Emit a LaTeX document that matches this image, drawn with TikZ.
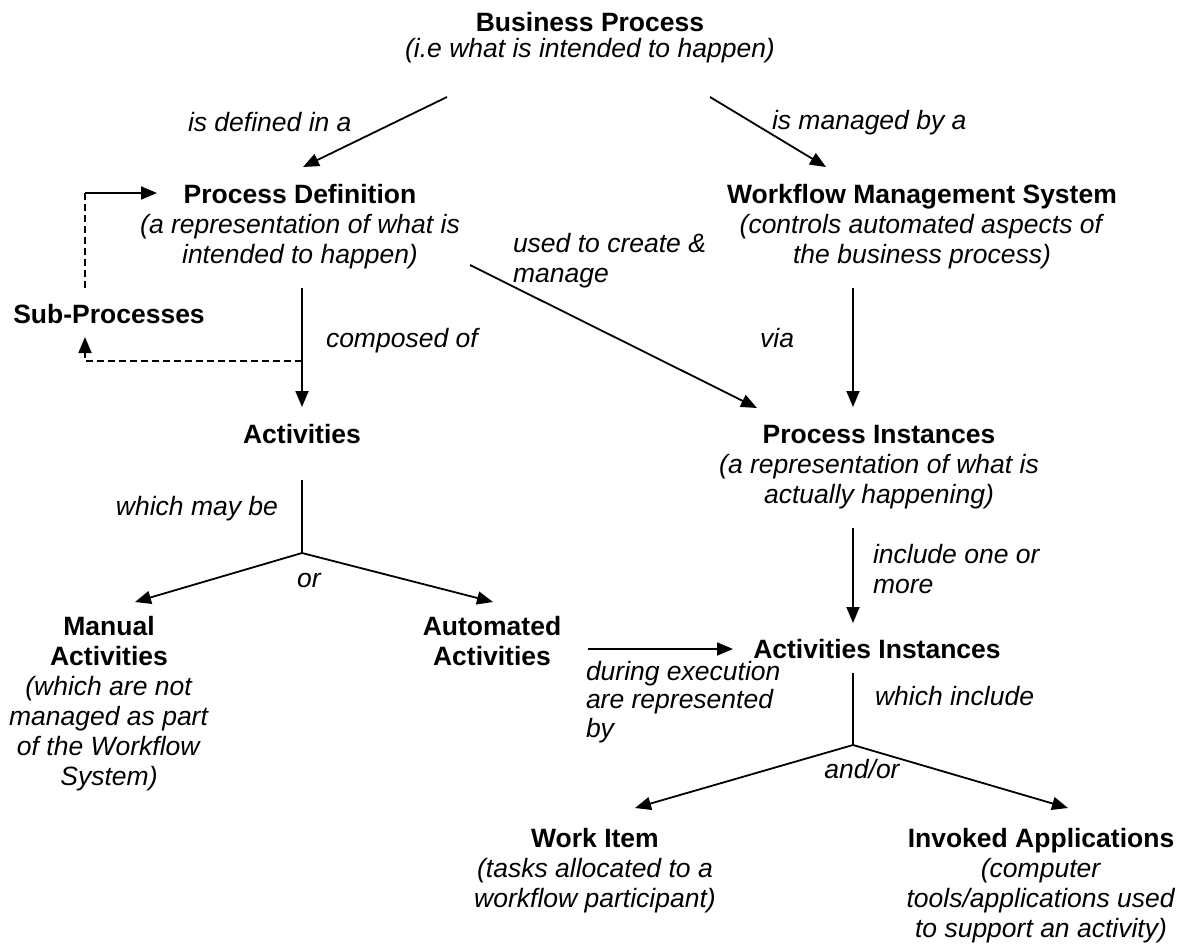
\documentclass[tikz,border=0pt]{standalone}
\usepackage{fontspec}
\setmainfont{Liberation Sans}
\usetikzlibrary{arrows.meta}
\begin{document}
\begin{tikzpicture}[x=1pt,y=-1pt,
  every node/.style={inner sep=0pt, outer sep=0pt, font=\fontsize{26.5}{30}\selectfont},
  blk/.style={anchor=north, align=center},
  lbl/.style={font=\fontsize{26.5}{30}\selectfont\itshape},
  lblblock/.style={lbl, anchor=north west, align=left},
  conn/.style={line width=1.8pt, draw=black},
  tip/.style={-{Triangle[length=16pt,width=13pt]}},
  arr/.style={conn, tip},
  dashedconn/.style={conn, dash pattern=on 7pt off 4pt}
]
\useasboundingbox (0,0) rectangle (1179,947);

% ---- concepts (first baseline minus strut height 21pt) ----
\node[blk] (bp) at (590,11)
  {\strut\textbf{Business Process}\\[-4pt]\strut\textit{(i.e what is intended to happen)}};
\node[blk] (pd) at (300,182)
  {\strut\textbf{Process Definition}\\\strut\textit{(a representation of what is}\\\strut\textit{intended to happen)}};
\node[blk] (wms) at (922,182)
  {\strut\textbf{Workflow Management System}\\\strut\textit{(controls automated aspects of}\\\strut\textit{the business process)}};
\node[blk] (sub) at (109,302) {\strut\textbf{Sub-Processes}};
\node[blk] (act) at (302,422) {\strut\textbf{Activities}};
\node[blk] (pi) at (879,422)
  {\strut\textbf{Process Instances}\\\strut\textit{(a representation of what is}\\\strut\textit{actually happening)}};
\node[blk] (man) at (109,614)
  {\strut\textbf{Manual}\\\strut\textbf{Activities}\\\strut\textit{(which are not}\\\strut\textit{managed as part}\\\strut\textit{of the Workflow}\\\strut\textit{System)}};
\node[blk] (auto) at (492,614)
  {\strut\textbf{Automated}\\\strut\textbf{Activities}};
\node[blk] (ai) at (877,637) {\strut\textbf{Activities Instances}};
\node[blk] (wi) at (595,826)
  {\strut\textbf{Work Item}\\\strut\textit{(tasks allocated to a}\\\strut\textit{workflow participant)}};
\node[blk] (ia) at (1041,826)
  {\strut\textbf{Invoked Applications}\\\strut\textit{(computer}\\\strut\textit{tools/applications used}\\\strut\textit{to support an activity)}};

% ---- relation labels ----
\node[lbl, anchor=base west] (l-def) at (188,132) {is defined in a};
\node[lbl, anchor=base west] (l-man) at (772,130) {is managed by a};
\node[lblblock] (l-use) at (513,231) {\strut used to create \&\\\strut manage};
\node[lbl, anchor=base west] (l-comp) at (326,347) {composed of};
\node[lbl, anchor=base east] (l-via) at (794,347) {via};
\node[lbl, anchor=base east] (l-may) at (278,515) {which may be};
\node[lbl, anchor=base] (l-or) at (309,587) {or};
\node[lblblock] (l-inc) at (873,542) {\strut include one or\\\strut more};
\node[lblblock] (l-dur) at (586,659) {\strut during execution\\[-1.5pt]\strut are represented\\[-1.5pt]\strut by};
\node[lbl, anchor=base west] (l-wi) at (875,705) {which include};
\node[lbl, anchor=base] (l-andor) at (862,778) {and/or};

% ---- connector end points ----
\coordinate (bp-l) at (447,97);
\coordinate (pd-in) at (303,167);
\coordinate (bp-r) at (710,97);
\coordinate (wms-in) at (826,167);
\coordinate (pd-out) at (302,288);
\coordinate (act-in) at (302,407);
\coordinate (pd-diag) at (470,265);
\coordinate (pi-diag) at (757,408);
\coordinate (wms-out) at (853,288);
\coordinate (pi-in) at (853,407);
\coordinate (pi-out) at (853,528);
\coordinate (ai-in) at (853,623);
\coordinate (auto-out) at (588,649);
\coordinate (ai-left) at (733,649);
\coordinate (comp-split) at (302,361);
\coordinate (sub-corner) at (85,361);
\coordinate (sub-in) at (85,337);
\coordinate (sub-out) at (85,288);
\coordinate (loop-corner) at (85,193);
\coordinate (pd-loop) at (157,193);
\coordinate (act-out) at (302,480);
\coordinate (act-fork) at (302,553);
\coordinate (man-in) at (135,602);
\coordinate (auto-in) at (493,602);
\coordinate (ai-out) at (853,673);
\coordinate (ai-fork) at (853,745);
\coordinate (wi-in) at (635,808);
\coordinate (ia-in) at (1068,808);

% ---- connectors ----
\draw[arr] (bp-l) -- (pd-in);
\draw[arr] (bp-r) -- (wms-in);
\draw[arr] (pd-out) -- (act-in);
\draw[arr] (pd-diag) -- (pi-diag);
\draw[arr] (wms-out) -- (pi-in);
\draw[arr] (pi-out) -- (ai-in);
\draw[arr] (auto-out) -- (ai-left);

% sub-process loop
\draw[dashedconn, tip] (comp-split) -- (sub-corner) -- (sub-in);
\draw[dashedconn] (sub-out) -- (loop-corner);
\draw[arr] (loop-corner) -- (pd-loop);

% forks
\draw[conn] (act-out) -- (act-fork);
\draw[arr] (act-fork) -- (man-in);
\draw[arr] (act-fork) -- (auto-in);
\draw[conn] (ai-out) -- (ai-fork);
\draw[arr] (ai-fork) -- (wi-in);
\draw[arr] (ai-fork) -- (ia-in);
\end{tikzpicture}
\end{document}
